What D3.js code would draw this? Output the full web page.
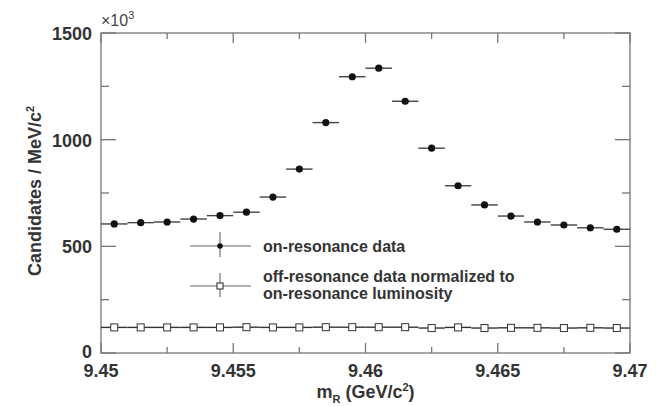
<!DOCTYPE html>
<html>
<head>
<meta charset="utf-8">
<script src="https://cdn.jsdelivr.net/npm/d3@7"></script>
<style>
  body { margin: 0; background: #fff; }
  svg text { font-family: "Liberation Sans", Arial, sans-serif; font-weight: bold; fill: #333; }
</style>
</head>
<body>
<svg id="chart" width="659" height="406"></svg>
<script>
// bin centres (GeV/c^2), 1 MeV bins
const binCenters = [9.4505, 9.4515, 9.4525, 9.4535, 9.4545, 9.4555, 9.4565, 9.4575, 9.4585, 9.4595,
                    9.4605, 9.4615, 9.4625, 9.4635, 9.4645, 9.4655, 9.4665, 9.4675, 9.4685, 9.4695];
// candidates / MeV/c^2, in units of 10^3
const onResonance  = [605, 611, 614, 628, 644, 660, 731, 862, 1080, 1295,
                      1335, 1180, 960, 784, 694, 642, 614, 600, 587, 580];
const offResonance = [120, 120, 120, 120, 120, 121, 120, 120, 121, 121,
                      121, 121, 117, 120, 117, 118, 118, 117, 118, 117];
const xTickLabels = [9.45, 9.455, 9.46, 9.465, 9.47];
const yTickLabels = [0, 500, 1000, 1500];
const BIN_HALF = 0.0005;

const MARGINS = { top: 33, right: 29, bottom: 53, left: 101 };
const svg = d3.select("#chart");
const width = +svg.attr("width");
const height = +svg.attr("height");

const xScale = d3.scaleLinear().domain([9.45, 9.47]).range([MARGINS.left, width - MARGINS.right]);
const yScale = d3.scaleLinear().domain([0, 1500]).range([height - MARGINS.bottom, MARGINS.top]);

const axisColor = "#777";
const x0 = xScale.range()[0], x1 = xScale.range()[1];
const y0 = yScale.range()[0], y1 = yScale.range()[1];

// frame
svg.append("rect")
  .attr("x", x0).attr("y", y1)
  .attr("width", x1 - x0).attr("height", y0 - y1)
  .attr("fill", "none").attr("stroke", axisColor).attr("stroke-width", 1.3);

// inward ticks on all four sides
const xMinor = d3.range(9.45, 9.4701, 0.0025);
const yMinor = d3.range(0, 1501, 250);
const ticks = svg.append("g").attr("stroke", axisColor).attr("stroke-width", 1.3);
xMinor.forEach(v => {
  const major = Math.abs(v / 0.005 - Math.round(v / 0.005)) < 1e-6;
  const len = major ? 10 : 6;
  ticks.append("line").attr("x1", xScale(v)).attr("x2", xScale(v)).attr("y1", y0).attr("y2", y0 - len);
  ticks.append("line").attr("x1", xScale(v)).attr("x2", xScale(v)).attr("y1", y1).attr("y2", y1 + len);
});
yMinor.forEach(v => {
  const len = v % 500 === 0 ? 15 : 8;
  ticks.append("line").attr("y1", yScale(v)).attr("y2", yScale(v)).attr("x1", x0).attr("x2", x0 + len);
  ticks.append("line").attr("y1", yScale(v)).attr("y2", yScale(v)).attr("x1", x1).attr("x2", x1 - len);
});

// tick labels
svg.append("g").selectAll("text").data(xTickLabels).join("text")
  .attr("x", d => xScale(d)).attr("y", y0 + 24)
  .attr("text-anchor", "middle").attr("font-size", 18)
  .text(d => d);
svg.append("g").selectAll("text").data(yTickLabels).join("text")
  .attr("x", x0 - 9).attr("y", d => yScale(d) + (d === 0 ? 5 : 7))
  .attr("text-anchor", "end").attr("font-size", 18)
  .text(d => d);

// multiplier
svg.append("text").attr("x", x0).attr("y", 26).attr("font-size", 16)
  .style("font-weight", "normal").style("fill", "#444")
  .html('×10<tspan dy="-7" font-size="11">3</tspan>');

// axis titles
svg.append("text")
  .attr("x", (x0 + x1) / 2).attr("y", 398)
  .attr("text-anchor", "middle").attr("font-size", 18)
  .html('m<tspan dy="5" font-size="11">R</tspan><tspan dy="-5"> (GeV/c</tspan><tspan dy="-7" font-size="11">2</tspan><tspan dy="7">)</tspan>');
svg.append("text")
  .attr("transform", "translate(41, 191) rotate(-90)")
  .attr("text-anchor", "middle").attr("font-size", 18)
  .html('Candidates / MeV/c<tspan dy="-7" font-size="11">2</tspan>');

const onData = binCenters.map((x, i) => ({ x, y: onResonance[i] }));
const offData = binCenters.map((x, i) => ({ x, y: offResonance[i] }));

// off-resonance: bars + open squares
svg.append("g").selectAll("line").data(offData).join("line")
  .attr("x1", d => xScale(d.x - BIN_HALF)).attr("x2", d => xScale(d.x + BIN_HALF))
  .attr("y1", d => yScale(d.y)).attr("y2", d => yScale(d.y))
  .attr("stroke", "#333").attr("stroke-width", 1.4);
svg.append("g").selectAll("rect").data(offData).join("rect")
  .attr("x", d => xScale(d.x) - 3.5).attr("y", d => yScale(d.y) - 3.5)
  .attr("width", 7).attr("height", 7)
  .attr("fill", "#fff").attr("stroke", "#333").attr("stroke-width", 1);

// on-resonance: bars + filled circles
svg.append("g").selectAll("line").data(onData).join("line")
  .attr("x1", d => xScale(d.x - BIN_HALF)).attr("x2", d => xScale(d.x + BIN_HALF))
  .attr("y1", d => yScale(d.y)).attr("y2", d => yScale(d.y))
  .attr("stroke", "#444").attr("stroke-width", 1.4);
svg.append("g").selectAll("circle").data(onData).join("circle")
  .attr("cx", d => xScale(d.x)).attr("cy", d => yScale(d.y))
  .attr("r", 3.6).attr("fill", "#111");

// legend
const legend = svg.append("g").attr("stroke", "#666").attr("stroke-width", 1.1);
legend.append("line").attr("x1", 190).attr("x2", 251).attr("y1", 246).attr("y2", 246);
legend.append("line").attr("x1", 220).attr("x2", 220).attr("y1", 232).attr("y2", 257);
legend.append("circle").attr("cx", 220).attr("cy", 246).attr("r", 2.8).attr("fill", "#111").attr("stroke", "none");
legend.append("line").attr("x1", 190).attr("x2", 251).attr("y1", 286).attr("y2", 286);
legend.append("line").attr("x1", 220).attr("x2", 220).attr("y1", 273).attr("y2", 297);
legend.append("rect").attr("x", 217).attr("y", 283).attr("width", 6).attr("height", 6)
  .attr("fill", "#fff").attr("stroke", "#333");

svg.append("text").attr("x", 263).attr("y", 252).attr("font-size", 16).text("on-resonance data");
svg.append("text").attr("x", 263).attr("y", 281.5).attr("font-size", 16).text("off-resonance data normalized to");
svg.append("text").attr("x", 263).attr("y", 299).attr("font-size", 16).text("on-resonance luminosity");
</script>
</body>
</html>
